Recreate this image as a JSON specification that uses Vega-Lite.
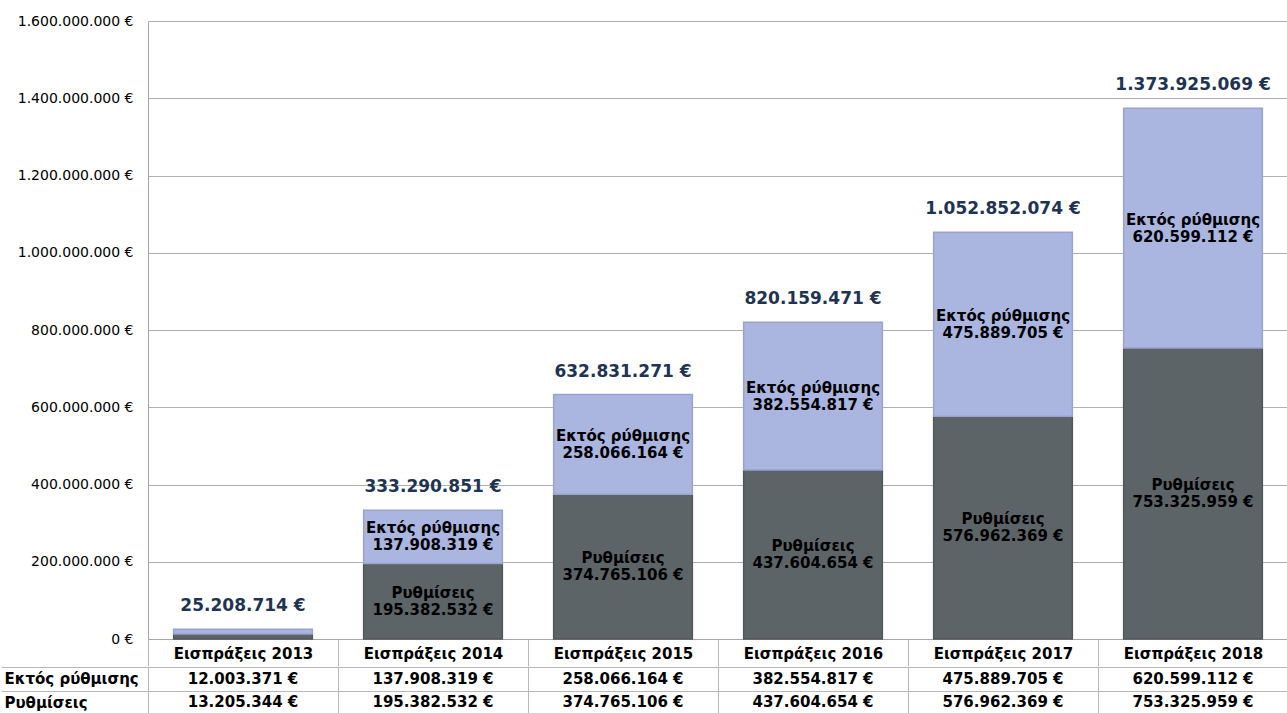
{
  "$schema": "https://vega.github.io/schema/vega-lite/v6.json",
  "padding": {"top": 14, "left": 0, "right": 0, "bottom": 0},
  "background": "#ffffff",
  "config": {
    "locale": {"number": {"decimal": ",", "thousands": ".", "grouping": [3], "currency": ["", " €"]}},
    "view": {"stroke": null},
    "font": "DejaVu Sans"
  },
  "datasets": {
    "parts": [
      {"year": "Εισπράξεις 2013", "series": "Ρυθμίσεις", "value": 13205344},
      {"year": "Εισπράξεις 2013", "series": "Εκτός ρύθμισης", "value": 12003371},
      {"year": "Εισπράξεις 2014", "series": "Ρυθμίσεις", "value": 195382532},
      {"year": "Εισπράξεις 2014", "series": "Εκτός ρύθμισης", "value": 137908319},
      {"year": "Εισπράξεις 2015", "series": "Ρυθμίσεις", "value": 374765106},
      {"year": "Εισπράξεις 2015", "series": "Εκτός ρύθμισης", "value": 258066164},
      {"year": "Εισπράξεις 2016", "series": "Ρυθμίσεις", "value": 437604654},
      {"year": "Εισπράξεις 2016", "series": "Εκτός ρύθμισης", "value": 382554817},
      {"year": "Εισπράξεις 2017", "series": "Ρυθμίσεις", "value": 576962369},
      {"year": "Εισπράξεις 2017", "series": "Εκτός ρύθμισης", "value": 475889705},
      {"year": "Εισπράξεις 2018", "series": "Ρυθμίσεις", "value": 753325959},
      {"year": "Εισπράξεις 2018", "series": "Εκτός ρύθμισης", "value": 620599112}
    ],
    "totals": [
      {"year": "Εισπράξεις 2013", "total": 25208714},
      {"year": "Εισπράξεις 2014", "total": 333290851},
      {"year": "Εισπράξεις 2015", "total": 632831271},
      {"year": "Εισπράξεις 2016", "total": 820159471},
      {"year": "Εισπράξεις 2017", "total": 1052852074},
      {"year": "Εισπράξεις 2018", "total": 1373925069}
    ]
  },
  "spacing": -7,
  "vconcat": [
    {
      "width": 1140,
      "height": 618,
      "encoding": {
        "x": {"field": "year", "type": "nominal",
          "scale": {"paddingInner": 0, "paddingOuter": 0},
          "axis": {"title": null, "orient": "bottom", "tickBand": "extent", "tickSize": 27, "tickColor": "#b8b8b8",
            "domainColor": "#a6a6a6", "labelPadding": -13, "labelBaseline": "middle", "labelAngle": 0,
            "labelFont": "DejaVu Sans", "labelFontWeight": "bold", "labelFontSize": 15, "labelColor": "#000000",
            "grid": false}}
      },
      "layer": [
        {
          "data": {"name": "parts"},
          "mark": {"type": "bar", "width": {"band": 0.73}, "strokeWidth": 1.5},
          "encoding": {
            "y": {"field": "value", "type": "quantitative", "stack": "zero",
              "scale": {"domain": [0, 1600000000]},
              "axis": {"title": null, "values": [0, 200000000, 400000000, 600000000, 800000000, 1000000000, 1200000000, 1400000000, 1600000000],
                "format": "$,.0f", "ticks": false, "labelPadding": 15, "domainColor": "#a6a6a6", "gridColor": "#b0b0b0",
                "labelFont": "DejaVu Sans", "labelFontSize": 14, "labelColor": "#000000", "minExtent": 147, "maxExtent": 147}},
            "color": {"field": "series", "type": "nominal",
              "scale": {"domain": ["Ρυθμίσεις", "Εκτός ρύθμισης"], "range": ["#5d6468", "#aab5e0"]}, "legend": null},
            "stroke": {"field": "series", "type": "nominal",
              "scale": {"domain": ["Ρυθμίσεις", "Εκτός ρύθμισης"], "range": ["#50575b", "#98a4cf"]}, "legend": null},
            "order": {"field": "series", "sort": "descending"}
          }
        },
        {
          "data": {"name": "parts"},
          "transform": [{"filter": "datum.year != 'Εισπράξεις 2013'"}],
          "mark": {"type": "text", "dy": -8.5, "font": "DejaVu Sans", "fontWeight": "bold", "fontSize": 15, "color": "#000000"},
          "encoding": {
            "y": {"field": "value", "type": "quantitative", "stack": "zero", "bandPosition": 0.5},
            "detail": {"field": "series"},
            "order": {"field": "series", "sort": "descending"},
            "text": {"field": "series"}
          }
        },
        {
          "data": {"name": "parts"},
          "transform": [{"filter": "datum.year != 'Εισπράξεις 2013'"}],
          "mark": {"type": "text", "dy": 8.5, "font": "DejaVu Sans", "fontWeight": "bold", "fontSize": 15, "color": "#000000"},
          "encoding": {
            "y": {"field": "value", "type": "quantitative", "stack": "zero", "bandPosition": 0.5},
            "detail": {"field": "series"},
            "order": {"field": "series", "sort": "descending"},
            "text": {"field": "value", "type": "quantitative", "format": "$,.0f"}
          }
        },
        {
          "data": {"name": "totals"},
          "mark": {"type": "text", "baseline": "bottom", "dy": -14, "font": "DejaVu Sans", "fontWeight": "bold", "fontSize": 17, "color": "#1f3352"},
          "encoding": {
            "y": {"field": "total", "type": "quantitative"},
            "text": {"field": "total", "type": "quantitative", "format": "$,.0f"}
          }
        }
      ]
    },
    {
      "width": 1140,
      "height": 47,
      "data": {"name": "parts"},
      "mark": {"type": "text", "font": "DejaVu Sans", "fontWeight": "bold", "fontSize": 15, "color": "#000000"},
      "encoding": {
        "x": {"field": "year", "type": "nominal",
          "scale": {"paddingInner": 0, "paddingOuter": 0},
          "axis": {"title": null, "labels": false, "ticks": false, "domain": false, "grid": true, "tickBand": "extent", "gridColor": "#b8b8b8"}},
        "y": {"field": "series", "type": "nominal", "sort": ["Εκτός ρύθμισης", "Ρυθμίσεις"],
          "scale": {"paddingInner": 0, "paddingOuter": 0},
          "axis": {"title": null, "tickBand": "extent", "tickSize": 147, "tickColor": "#b8b8b8", "grid": true, "gridColor": "#b8b8b8",
            "domainColor": "#b8b8b8", "labelAlign": "left", "labelPadding": -3, "labelFont": "DejaVu Sans", "labelFontWeight": "bold",
            "labelFontSize": 15, "labelColor": "#000000", "minExtent": 147, "maxExtent": 147}},
        "text": {"field": "value", "type": "quantitative", "format": "$,.0f"}
      }
    }
  ]
}
